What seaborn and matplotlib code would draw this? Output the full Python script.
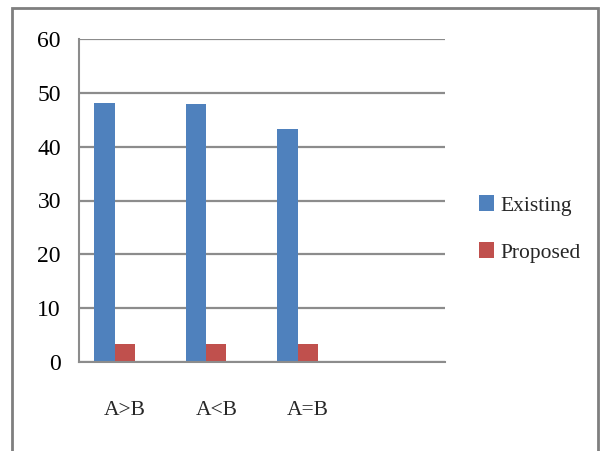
import matplotlib
matplotlib.use("Agg")
import matplotlib.pyplot as plt
from matplotlib.patches import Rectangle, Patch
import seaborn as sns
import pandas as pd
import numpy as np

categories = ["A>B", "A<B", "A=B"]
existing = [48.1, 48.0, 43.3]
proposed = [3.3, 3.3, 3.3]
series_names = ["Existing", "Proposed"]
y_ticks = [0, 10, 20, 30, 40, 50, 60]

colors = {"Existing": "#4F81BD", "Proposed": "#C0504D", "Series3": "#9BBB59"}

df = pd.DataFrame({
    "category": categories * 2,
    "series": [series_names[0]] * 3 + [series_names[1]] * 3,
    "value": existing + proposed,
})

sns.set_style("white")
plt.rcParams["font.family"] = ["Liberation Serif", "DejaVu Serif"]

fig = plt.figure(figsize=(6.01, 4.51), dpi=100)
ax = fig.add_axes([79 / 601, 1 - 362 / 451, (445 - 79) / 601, (362 - 39) / 451])

order = categories + [" "]
sns.barplot(data=df, x="category", y="value", hue="series",
            order=order, hue_order=["Existing", "Proposed", "Series3"],
            palette=colors, width=0.667, saturation=1, ax=ax,
            legend=False, edgecolor="none", linewidth=0)

ax.set_xlim(-0.5, len(order) - 0.5)
ax.set_ylim(0, 60)
ax.set_yticks(y_ticks)
ax.set_yticklabels([str(t) for t in y_ticks], fontsize=17)
ax.yaxis.grid(True, color="#8C8C8C", linewidth=1.6)
ax.set_axisbelow(True)

# category boundaries carry the tick marks, labels sit between them
ax.set_xticks(np.arange(-0.5, len(order), 1.0))
ax.set_xticklabels([])
ax.set_xticks(np.arange(len(order)), minor=True)
ax.set_xticklabels(order, minor=True, fontsize=15.5)
ax.tick_params(axis="x", which="minor", length=0, pad=28)
ax.tick_params(axis="x", which="major", length=6, width=1.5, color="#8C8C8C", direction="out")
ax.tick_params(axis="y", length=5, width=1.5, color="#8C8C8C", direction="out", pad=8)
ax.tick_params(axis="both", labelcolor="black")

ax.set_xlabel("")
ax.set_ylabel("")
for side in ["top", "right"]:
    ax.spines[side].set_visible(False)
for side in ["left", "bottom"]:
    ax.spines[side].set_color("#8C8C8C")
    ax.spines[side].set_linewidth(1.5)

handles = [Patch(facecolor=colors[s], edgecolor="none") for s in series_names]
fig.legend(handles, series_names, loc="center left",
           bbox_to_anchor=(460 / 601, 1 - 229 / 451), frameon=False,
           fontsize=15.5, handlelength=0.7, handleheight=0.75,
           handletextpad=0.3, labelspacing=1.25)

fig.patches.append(Rectangle((12 / 601, -0.05), (598 - 12) / 601, 1.05 - 8 / 451,
                             transform=fig.transFigure, fill=False,
                             edgecolor="#7F7F7F", linewidth=2))

fig.savefig("out.png", dpi=100)
